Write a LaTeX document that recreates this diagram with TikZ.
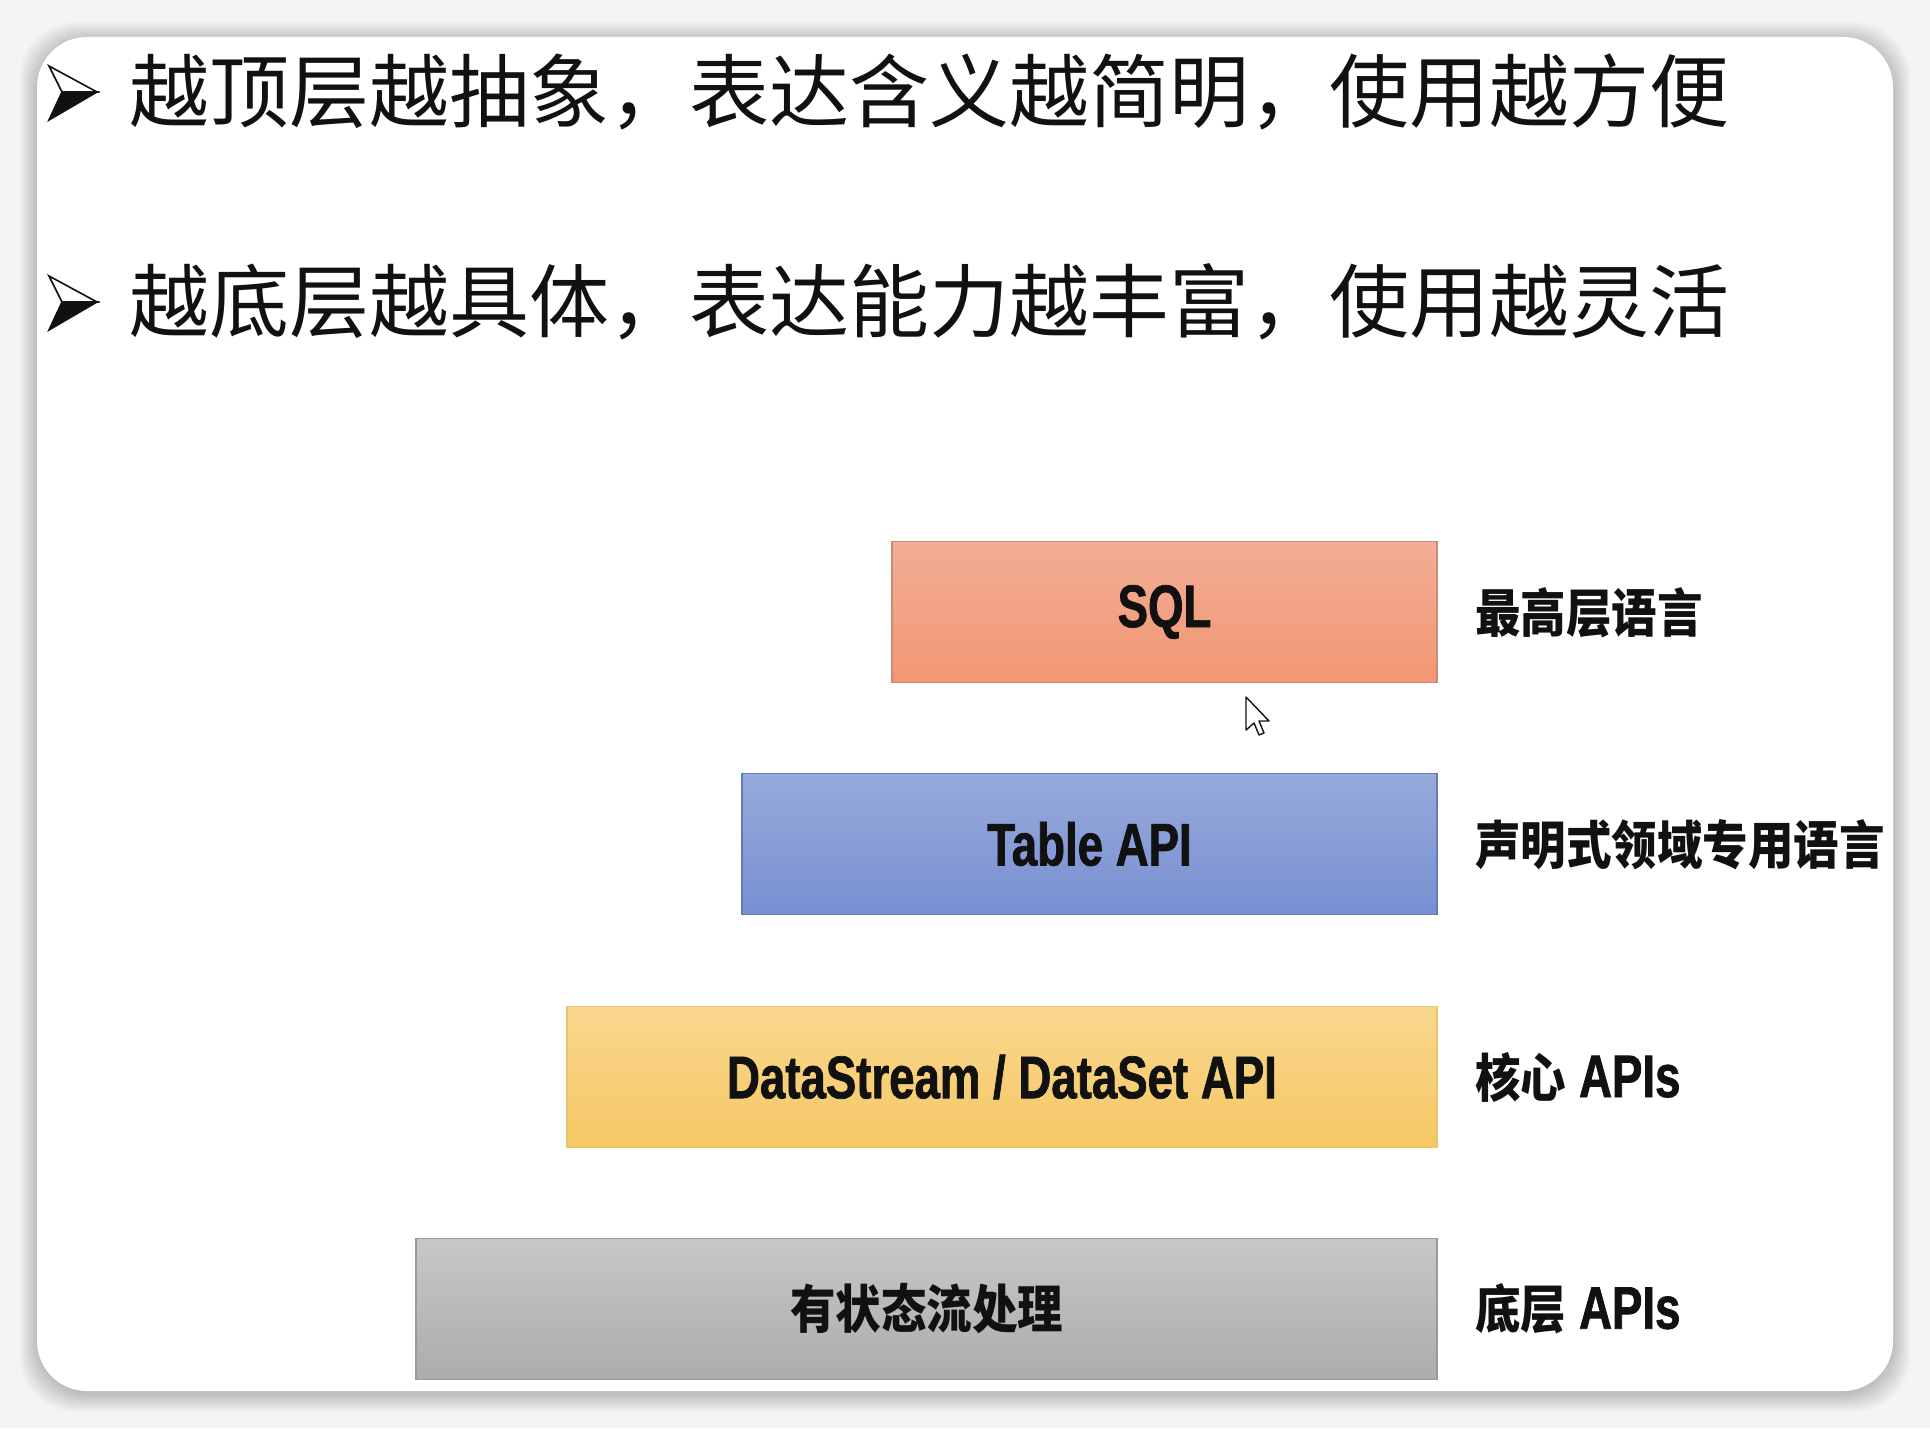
\documentclass[tikz,border=0pt]{standalone}
\usepackage{fontspec}
\newfontfamily\cjk{Noto Sans CJK SC}
\newfontfamily\cjkb[FakeStretch=0.875]{Noto Sans CJK SC}
\newfontfamily\latb[FakeStretch=0.76,BoldFeatures={FakeBold=1.2}]{Liberation Sans}
\definecolor{bgc}{HTML}{F4F4F4}
\definecolor{sqlt}{HTML}{F1AE96}
\definecolor{sqlb}{HTML}{F39673}
\definecolor{sqld}{HTML}{C98C78}
\definecolor{tabt}{HTML}{98AADB}
\definecolor{tabb}{HTML}{7790D2}
\definecolor{tabd}{HTML}{6479B8}
\definecolor{dst}{HTML}{F9D78E}
\definecolor{dsb}{HTML}{F6C865}
\definecolor{dsd}{HTML}{E9C46A}
\definecolor{grt}{HTML}{C7C7C7}
\definecolor{grb}{HTML}{ACACAC}
\definecolor{grd}{HTML}{9A9A9A}
\definecolor{ink}{HTML}{111111}
\tikzset{
  layerbox/.style={rectangle, inner sep=0pt, minimum height=70.5pt, line width=0.75pt,
    text=ink, font=\latb\bfseries\fontsize{30pt}{30pt}\selectfont},
  sidelabel/.style={anchor=west, inner sep=0pt, text=ink},
  bigline/.style={anchor=west, inner sep=0pt, text=ink, font=\cjk\fontsize{40pt}{40pt}\selectfont},
}
\newcommand\cjklab[1]{{\cjkb\bfseries\fontsize{26pt}{26pt}\selectfont #1}}
\newcommand\latlab[1]{{\latb\bfseries\fontsize{30pt}{30pt}\selectfont #1}}
\begin{document}
\begin{tikzpicture}[x=0.5pt,y=-0.5pt]
\useasboundingbox (0,0) rectangle (1930,1428);
\fill[bgc] (0,0) rectangle (1930,1428);
% shadow of the card
\foreach \i in {1,...,18}{
  \fill[black, opacity=0.011, rounded corners=28pt] (37-\i,37-\i+3) rectangle (1893+\i,1391+\i+3);
}
\fill[white, rounded corners=25pt] (37,37) rectangle (1893,1391);

% bullet arrows
\foreach \dy/\nm in {0/a, 210/b}{
  \begin{scope}[shift={(0,\dy)}]
    \coordinate (tl\nm) at (49,66);
    \coordinate (tip\nm) at (97,92);
    \coordinate (nt\nm) at (62,92);
    \coordinate (bl\nm) at (49,120);
    \filldraw[fill=white, draw=ink, line width=0.8pt, line join=miter] (tl\nm) -- (tip\nm) -- (nt\nm) -- cycle;
    \filldraw[fill=ink, draw=ink, line width=0.8pt, line join=miter] (bl\nm) -- (nt\nm) -- (tip\nm) -- cycle;
  \end{scope}
}

\node[bigline] (l1) at (129,92) {越顶层越抽象，表达含义越简明，使用越方便};
\node[bigline] (l2) at (129,302) {越底层越具体，表达能力越丰富，使用越灵活};

% layer boxes
\node[layerbox, minimum width=272.5pt, top color=sqlt, bottom color=sqlb, draw=sqld] (sql) at (1164.5,612) {SQL};
\node[layerbox, minimum width=347.5pt, top color=tabt, bottom color=tabb, draw=tabd] (tab) at (1089.5,844) {Table API};
\node[layerbox, minimum width=435pt, top color=dst, bottom color=dsb, draw=dsd] (ds) at (1002,1077) {DataStream / DataSet API};
\node[layerbox, minimum width=510.5pt, top color=grt, bottom color=grb, draw=grd] (st) at (926.5,1309) {\cjklab{有状态流处理}};

% side labels
\node[sidelabel] (lsql) at (1475,613) {\cjklab{最高层语言}};
\node[sidelabel] (ltab) at (1475,845) {\cjklab{声明式领域专用语言}};
\node[sidelabel] (lds) at (1475,1077) {\cjklab{核心}\latlab{ APIs}};
\node[sidelabel] (lst) at (1475,1309) {\cjklab{底层}\latlab{ APIs}};

% mouse cursor
\begin{scope}[shift={(1246,697)}]
  \filldraw[fill=white, draw=ink, line width=0.7pt, line join=round]
    (0,0) -- (0,33) -- (8,26) -- (13,38) -- (18,36) -- (13,24) -- (23,24) -- cycle;
\end{scope}
\end{tikzpicture}
\end{document}
